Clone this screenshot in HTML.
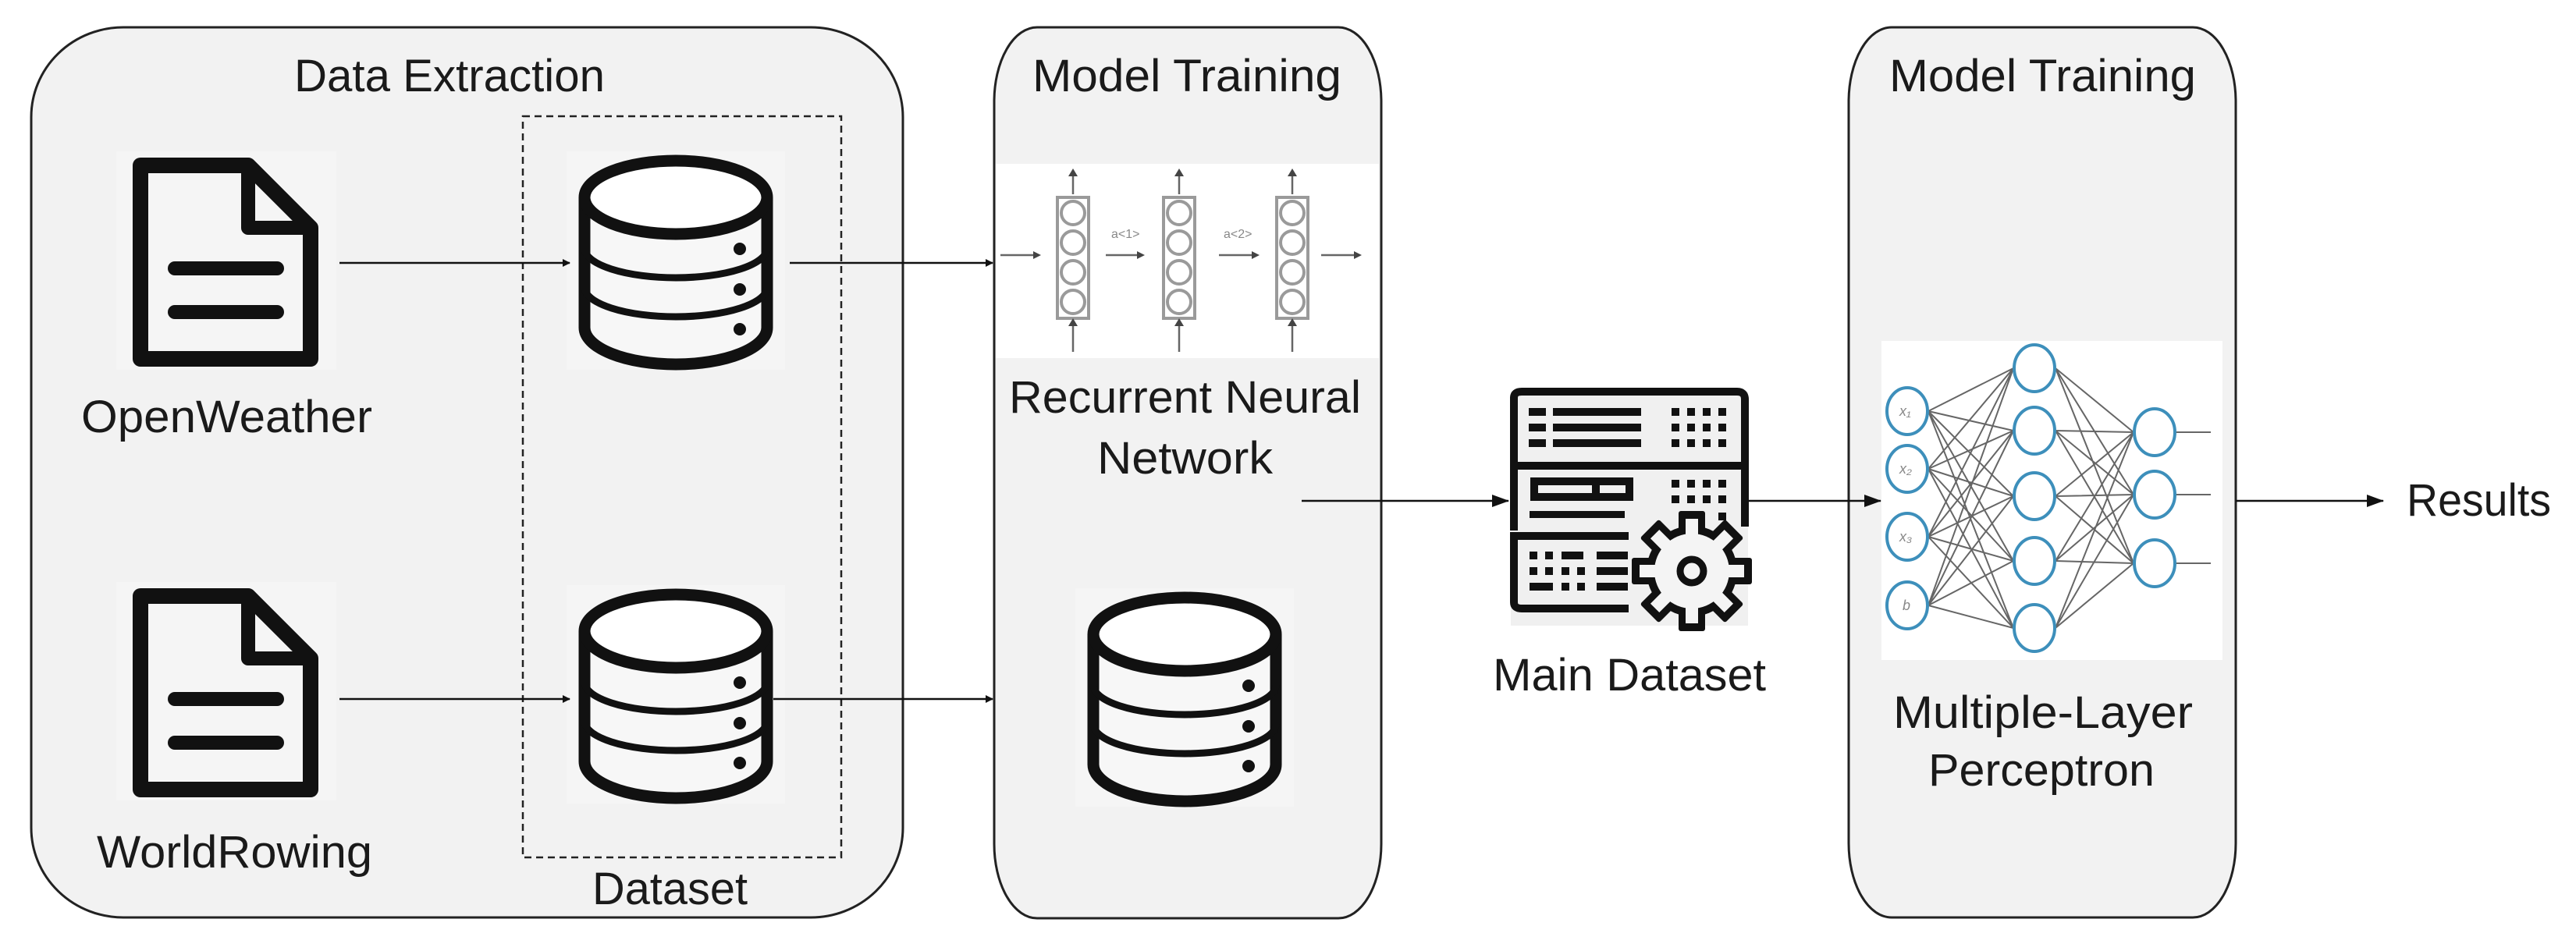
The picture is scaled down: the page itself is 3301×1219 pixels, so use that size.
<!DOCTYPE html>
<html><head><meta charset="utf-8"><style>
html,body{margin:0;padding:0;background:#fff;}
svg{display:block;}
text{font-family:"Liberation Sans",sans-serif;fill:#1a1a1a;}
</style></head><body>
<svg width="3301" height="1219" viewBox="0 0 3301 1219" xmlns="http://www.w3.org/2000/svg">
<defs>
<marker id="ah" markerWidth="10" markerHeight="10" refX="9" refY="5" orient="auto" markerUnits="userSpaceOnUse">
<path d="M0,0 L10,5 L0,10 Z" fill="#111"/>
</marker>
<marker id="ah2" markerWidth="22" markerHeight="16" refX="21" refY="8" orient="auto" markerUnits="userSpaceOnUse">
<path d="M0,0 L22,8 L0,16 Z" fill="#111"/>
</marker>
</defs>

<!-- containers -->
<rect x="40" y="35" width="1117" height="1141" rx="118" ry="115" fill="#f2f2f2" stroke="#222" stroke-width="3"/>
<rect x="1274" y="35" width="496" height="1142" rx="55" ry="95" fill="#f2f2f2" stroke="#222" stroke-width="3"/>
<rect x="2369" y="35" width="496" height="1141" rx="55" ry="95" fill="#f2f2f2" stroke="#222" stroke-width="3"/>

<!-- titles -->
<text x="377" y="117" font-size="58" textLength="398" lengthAdjust="spacingAndGlyphs">Data Extraction</text>
<text x="1323" y="117" font-size="58" textLength="396" lengthAdjust="spacingAndGlyphs">Model Training</text>
<text x="2421" y="117" font-size="58" textLength="393" lengthAdjust="spacingAndGlyphs">Model Training</text>

<!-- dashed dataset box -->
<rect x="670" y="149" width="408" height="950" fill="none" stroke="#222" stroke-width="2.5" stroke-dasharray="9,6"/>
<text x="759" y="1159" font-size="58" textLength="199" lengthAdjust="spacingAndGlyphs">Dataset</text>

<!-- doc icons -->
<g id="doc">
<rect x="149" y="194" width="282" height="280" fill="#f5f5f5"/>
<path d="M180,212 H318 L398,292 V460 H180 Z" fill="none" stroke="#111" stroke-width="20" stroke-linejoin="round"/>
<path d="M318,212 V292 H398" fill="none" stroke="#111" stroke-width="18" stroke-linejoin="round"/>
<line x1="224" y1="344" x2="355" y2="344" stroke="#111" stroke-width="18" stroke-linecap="round"/>
<line x1="224" y1="400" x2="355" y2="400" stroke="#111" stroke-width="18" stroke-linecap="round"/>
</g>
<use href="#doc" transform="translate(0,552)"/>
<text x="104" y="554" font-size="58" textLength="373" lengthAdjust="spacingAndGlyphs">OpenWeather</text>
<text x="124" y="1112" font-size="58" textLength="353" lengthAdjust="spacingAndGlyphs">WorldRowing</text>

<!-- DB icons -->
<g id="db">
<rect x="726" y="194" width="280" height="280" fill="#f5f5f5"/>
<path d="M749,253 V420 A117,47 0 0 0 983,420 V253" fill="#f7f7f7" stroke="#111" stroke-width="15"/>
<ellipse cx="866" cy="253" rx="117" ry="47" fill="#fff" stroke="#111" stroke-width="15"/>
<path d="M749,318 A117,38 0 0 0 983,318" fill="none" stroke="#111" stroke-width="9"/>
<path d="M749,368 A117,38 0 0 0 983,368" fill="none" stroke="#111" stroke-width="9"/>
<circle cx="948" cy="319" r="8" fill="#111"/>
<circle cx="948" cy="371" r="8" fill="#111"/>
<circle cx="948" cy="422" r="8" fill="#111"/>
</g>
<use href="#db" transform="translate(0,556)"/>
<use href="#db" transform="translate(652,560)"/>

<!-- arrows -->
<line x1="435" y1="337" x2="730" y2="337" stroke="#111" stroke-width="2.5" marker-end="url(#ah)"/>
<line x1="435" y1="896" x2="730" y2="896" stroke="#111" stroke-width="2.5" marker-end="url(#ah)"/>
<line x1="1012" y1="337" x2="1272" y2="337" stroke="#111" stroke-width="2.5" marker-end="url(#ah)"/>
<line x1="991" y1="896" x2="1272" y2="896" stroke="#111" stroke-width="2.5" marker-end="url(#ah)"/>
<line x1="1668" y1="642" x2="1933" y2="642" stroke="#111" stroke-width="2.5" marker-end="url(#ah2)"/>
<line x1="2239" y1="642" x2="2410" y2="642" stroke="#111" stroke-width="2.5" marker-end="url(#ah2)"/>
<line x1="2865" y1="642" x2="3054" y2="642" stroke="#111" stroke-width="2.5" marker-end="url(#ah2)"/>
<text x="3084" y="661" font-size="58" textLength="185" lengthAdjust="spacingAndGlyphs">Results</text>

<!-- RNN image -->
<rect x="1276" y="210" width="491" height="249" fill="#fff"/>
<g stroke="#9a9a9a" stroke-width="4" fill="none">
<rect x="1355" y="253" width="40" height="155"/>
<rect x="1491" y="253" width="40" height="155"/>
<rect x="1636" y="253" width="40" height="155"/>
<ellipse cx="1375" cy="273" rx="15" ry="15"/><ellipse cx="1375" cy="311" rx="15" ry="15"/><ellipse cx="1375" cy="349" rx="15" ry="15"/><ellipse cx="1375" cy="387" rx="15" ry="15"/>
<ellipse cx="1511" cy="273" rx="15" ry="15"/><ellipse cx="1511" cy="311" rx="15" ry="15"/><ellipse cx="1511" cy="349" rx="15" ry="15"/><ellipse cx="1511" cy="387" rx="15" ry="15"/>
<ellipse cx="1656" cy="273" rx="15" ry="15"/><ellipse cx="1656" cy="311" rx="15" ry="15"/><ellipse cx="1656" cy="349" rx="15" ry="15"/><ellipse cx="1656" cy="387" rx="15" ry="15"/>
</g>
<g stroke="#666" stroke-width="2.5">
<line x1="1375" y1="249" x2="1375" y2="224"/><line x1="1511" y1="249" x2="1511" y2="224"/><line x1="1656" y1="249" x2="1656" y2="224"/>
<line x1="1375" y1="451" x2="1375" y2="416"/><line x1="1511" y1="451" x2="1511" y2="416"/><line x1="1656" y1="451" x2="1656" y2="416"/>
<line x1="1282" y1="327" x2="1327" y2="327"/><line x1="1417" y1="327" x2="1460" y2="327"/><line x1="1562" y1="327" x2="1607" y2="327"/><line x1="1693" y1="327" x2="1738" y2="327"/>
</g>
<g fill="#444">
<path d="M1369,226 L1375,216 L1381,226Z"/><path d="M1505,226 L1511,216 L1517,226Z"/><path d="M1650,226 L1656,216 L1662,226Z"/>
<path d="M1369,418 L1375,408 L1381,418Z"/><path d="M1505,418 L1511,408 L1517,418Z"/><path d="M1650,418 L1656,408 L1662,418Z"/>
<path d="M1324,322 L1334,327 L1324,332Z"/><path d="M1457,322 L1467,327 L1457,332Z"/><path d="M1604,322 L1614,327 L1604,332Z"/><path d="M1735,322 L1745,327 L1735,332Z"/>
</g>
<text x="1424" y="305" font-size="16" fill="#888" style="fill:#888">a&lt;1&gt;</text>
<text x="1568" y="305" font-size="16" style="fill:#888">a&lt;2&gt;</text>
<text x="1293" y="529" font-size="58" textLength="451" lengthAdjust="spacingAndGlyphs">Recurrent Neural</text>
<text x="1406" y="607" font-size="58" textLength="225" lengthAdjust="spacingAndGlyphs">Network</text>

<!-- server icon -->
<rect x="1936" y="502" width="304" height="300" fill="#f0f0f0"/>
<g stroke="#111" fill="none" stroke-width="10">
<path d="M1940,680 V510 Q1940,502 1950,502 H2226 Q2236,502 2236,512 V675"/>
<line x1="1940" y1="597" x2="2236" y2="597"/>
<path d="M2087,687 H1940 V772 Q1940,780 1950,780 H2087"/>
<rect x="1966" y="617" width="122" height="20"/>
<line x1="2045" y1="617" x2="2045" y2="637"/>
</g>
<g fill="#111">
<rect x="1959" y="523" width="22" height="10"/><rect x="1990" y="523" width="113" height="10"/>
<rect x="1959" y="543" width="22" height="10"/><rect x="1990" y="543" width="113" height="10"/>
<rect x="1959" y="563" width="22" height="10"/><rect x="1990" y="563" width="113" height="10"/>
<rect x="2142" y="523" width="10" height="10"/><rect x="2162" y="523" width="10" height="10"/><rect x="2182" y="523" width="10" height="10"/><rect x="2202" y="523" width="10" height="10"/>
<rect x="2142" y="543" width="10" height="10"/><rect x="2162" y="543" width="10" height="10"/><rect x="2182" y="543" width="10" height="10"/><rect x="2202" y="543" width="10" height="10"/>
<rect x="2142" y="563" width="10" height="10"/><rect x="2162" y="563" width="10" height="10"/><rect x="2182" y="563" width="10" height="10"/><rect x="2202" y="563" width="10" height="10"/>
<rect x="2142" y="615" width="10" height="10"/><rect x="2162" y="615" width="10" height="10"/><rect x="2182" y="615" width="10" height="10"/><rect x="2202" y="615" width="10" height="10"/>
<rect x="2142" y="635" width="10" height="10"/><rect x="2162" y="635" width="10" height="10"/><rect x="2182" y="635" width="10" height="10"/><rect x="2202" y="635" width="10" height="10"/>
<rect x="2202" y="657" width="10" height="10"/>
<rect x="1960" y="655" width="122" height="9"/>
<rect x="1960" y="707" width="10" height="10"/><rect x="1980" y="707" width="10" height="10"/><rect x="2001" y="707" width="28" height="10"/><rect x="2046" y="707" width="40" height="10"/>
<rect x="1960" y="727" width="10" height="10"/><rect x="1980" y="727" width="10" height="10"/><rect x="2001" y="727" width="10" height="10"/><rect x="2021" y="727" width="10" height="10"/><rect x="2046" y="727" width="40" height="10"/>
<rect x="1960" y="747" width="30" height="10"/><rect x="2001" y="747" width="10" height="10"/><rect x="2021" y="747" width="10" height="10"/><rect x="2046" y="747" width="40" height="10"/>
</g>
<!-- gear -->
<g transform="translate(2168,732)">
<g fill="#111">
<circle r="58"/>
<g id="teeth"><rect x="-17" y="-77" width="34" height="40" rx="3"/><rect x="-17" y="37" width="34" height="40" rx="3"/><rect x="-77" y="-17" width="40" height="34" rx="3"/><rect x="37" y="-17" width="40" height="34" rx="3"/></g>
<use href="#teeth" transform="rotate(45)"/>
</g>
<g fill="#f4f4f4">
<circle r="48"/>
<g id="teethw"><rect x="-8" y="-67" width="16" height="30"/><rect x="-8" y="37" width="16" height="30"/><rect x="-67" y="-8" width="30" height="16"/><rect x="37" y="-8" width="30" height="16"/></g>
<use href="#teethw" transform="rotate(45)"/>
</g>
<circle r="15" fill="none" stroke="#111" stroke-width="9"/>
</g>
<text x="1913" y="885" font-size="58" textLength="350" lengthAdjust="spacingAndGlyphs">Main Dataset</text>

<!-- MLP image -->
<rect x="2411" y="437" width="437" height="409" fill="#fff"/>
<g stroke="#666" stroke-width="2">
<path d="M2471,527 L2580,472 M2471,527 L2580,552 M2471,527 L2580,636 M2471,527 L2580,719 M2471,527 L2580,805
M2471,601 L2580,472 M2471,601 L2580,552 M2471,601 L2580,636 M2471,601 L2580,719 M2471,601 L2580,805
M2471,688 L2580,472 M2471,688 L2580,552 M2471,688 L2580,636 M2471,688 L2580,719 M2471,688 L2580,805
M2471,776 L2580,472 M2471,776 L2580,552 M2471,776 L2580,636 M2471,776 L2580,719 M2471,776 L2580,805
M2634,472 L2734,554 M2634,472 L2734,634 M2634,472 L2734,722
M2634,552 L2734,554 M2634,552 L2734,634 M2634,552 L2734,722
M2634,636 L2734,554 M2634,636 L2734,634 M2634,636 L2734,722
M2634,719 L2734,554 M2634,719 L2734,634 M2634,719 L2734,722
M2634,805 L2734,554 M2634,805 L2734,634 M2634,805 L2734,722
M2788,554 L2833,554 M2788,634 L2833,634 M2788,722 L2833,722"/>
</g>
<g fill="#fff" stroke="#3d8fbb" stroke-width="4">
<ellipse cx="2444" cy="527" rx="26" ry="30"/><ellipse cx="2444" cy="601" rx="26" ry="30"/><ellipse cx="2444" cy="688" rx="26" ry="30"/><ellipse cx="2444" cy="776" rx="26" ry="30"/>
<ellipse cx="2607" cy="472" rx="26" ry="30"/><ellipse cx="2607" cy="552" rx="26" ry="30"/><ellipse cx="2607" cy="636" rx="26" ry="30"/><ellipse cx="2607" cy="719" rx="26" ry="30"/><ellipse cx="2607" cy="805" rx="26" ry="30"/>
<ellipse cx="2761" cy="554" rx="26" ry="30"/><ellipse cx="2761" cy="634" rx="26" ry="30"/><ellipse cx="2761" cy="722" rx="26" ry="30"/>
</g>
<g font-size="18" font-style="italic" style="fill:#888">
<text x="2434" y="533" style="fill:#888">x₁</text><text x="2434" y="607" style="fill:#888">x₂</text><text x="2434" y="694" style="fill:#888">x₃</text><text x="2438" y="782" style="fill:#888">b</text>
</g>
<text x="2426" y="933" font-size="58" textLength="384" lengthAdjust="spacingAndGlyphs">Multiple-Layer</text>
<text x="2471" y="1007" font-size="58" textLength="290" lengthAdjust="spacingAndGlyphs">Perceptron</text>
</svg>
</body></html>
